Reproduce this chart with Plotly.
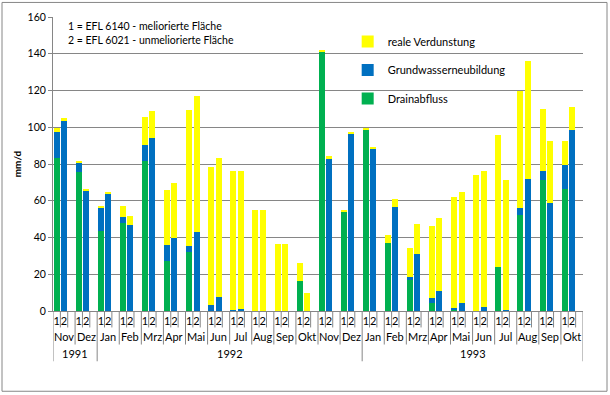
import plotly.graph_objects as go

# ---------------- data ----------------
months = ["Nov", "Dez", "Jan", "Feb", "Mrz", "Apr", "Mai", "Jun", "Jul", "Aug", "Sep", "Okt",
          "Nov", "Dez", "Jan", "Feb", "Mrz", "Apr", "Mai", "Jun", "Jul", "Aug", "Sep", "Okt"]
years = ["1991", "1992", "1993"]
months_per_year = [2, 12, 10]
bar_labels = ["1", "2"]

# site 1 = EFL 6140 (meliorierte Fläche)
drain_1 = [83.5, 75.5, 43.5, 47.7, 81.8, 27.0, 32.0, 0.0, 0.0, 0.0, 0.0, 16.2,
           140.7, 54.0, 98.7, 37.1, 17.4, 4.3, 1.0, 0.0, 24.0, 52.0, 71.4, 66.5]
gw_1 = [14.0, 5.5, 13.0, 3.7, 8.6, 8.7, 3.5, 3.2, 0.7, 0.0, 0.0, 0.0,
        0.0, 0.0, 0.0, 0.0, 0.9, 2.6, 0.5, 0.0, 0.0, 4.0, 4.9, 12.9]
evap_1 = [2.2, 0.7, 0.5, 5.5, 15.2, 30.4, 74.0, 75.3, 75.3, 54.9, 36.3, 10.0,
          1.6, 0.9, 0.8, 4.3, 16.1, 39.6, 60.7, 74.1, 71.8, 63.5, 33.7, 13.2]

# site 2 = EFL 6021 (unmeliorierte Fläche)
drain_2 = [0.0, 0.0, 0.0, 0.0, 0.0, 0.0, 0.0, 0.0, 0.0, 0.0, 0.0, 0.0,
           0.0, 0.0, 0.0, 0.0, 0.0, 0.0, 0.0, 0.0, 0.0, 0.0, 0.0, 0.0]
gw_2 = [103.5, 65.7, 63.8, 46.6, 94.2, 39.5, 43.0, 7.6, 1.3, 0.0, 0.0, 0.0,
        82.8, 96.7, 88.2, 56.4, 31.1, 11.0, 4.2, 2.0, 0.5, 72.0, 59.0, 98.6]
evap_2 = [1.3, 0.8, 0.5, 4.9, 14.6, 30.4, 73.9, 75.8, 74.7, 54.9, 36.3, 9.9,
          1.6, 0.4, 0.6, 4.7, 16.1, 39.6, 60.7, 74.3, 70.9, 63.9, 33.6, 12.5]

# ---------------- layout helpers ----------------
SLOTS = 3  # two bars + one empty slot per month (Excel-style category layout)
n = len(months)
x_pos, x_text = [], []
for i in range(n):
    for s, lab in enumerate(bar_labels):
        x_pos.append(SLOTS * i + s)
        x_text.append(lab)


def interleave(a, b):
    out = []
    for u, v in zip(a, b):
        out += [u, v]
    return out


FONT = "Lato, 'Open Sans', sans-serif"
GRAY = "#868686"

fig = go.Figure()
series = [
    ("Drainabfluss", drain_1, drain_2, "#00B050", 3),
    ("Grundwasserneubildung", gw_1, gw_2, "#0070C0", 2),
    ("reale Verdunstung", evap_1, evap_2, "#FFFF00", 1),
]
for name, a, b, col, rank in series:
    fig.add_trace(go.Bar(
        x=x_pos, y=interleave(a, b), name=name, legendgroup=name, legendrank=rank,
        marker=dict(color=col, line=dict(width=0)), width=0.82,
    ))

total_slots = SLOTS * n
xmin, xmax = -0.5, total_slots - 0.5

shapes = []
y_short, y_month, y_year = -0.056, -0.114, -0.171
year_bounds = {0}
acc = 0
for m in months_per_year:
    acc += m
    year_bounds.add(acc)
for k in range(total_slots + 1):
    xb = k - 0.5
    if k % SLOTS == 0 and (k // SLOTS) in year_bounds:
        y1 = y_year
    elif k % SLOTS == 0:
        y1 = y_month
    else:
        y1 = y_short
    shapes.append(dict(type="line", xref="x", yref="paper", x0=xb, x1=xb, y0=0, y1=y1,
                       line=dict(color=GRAY, width=1)))

# outer chart border
shapes.append(dict(type="rect", xref="paper", yref="paper", x0=-0.0962, x1=1.0453,
                   y0=-0.273, y1=1.0495, line=dict(color=GRAY, width=1), layer="below"))

annotations = []
for i, m in enumerate(months):
    annotations.append(dict(x=SLOTS * i + 1, y=-0.087, xref="x", yref="paper", text=m,
                            showarrow=False, font=dict(family=FONT, size=11, color="black"),
                            xanchor="center", yanchor="middle"))
start = 0
for yr, m in zip(years, months_per_year):
    center = (SLOTS * start - 0.5 + SLOTS * (start + m) - 0.5) / 2
    annotations.append(dict(x=center, y=-0.144, xref="x", yref="paper", text=yr,
                            showarrow=False, font=dict(family=FONT, size=11, color="black"),
                            xanchor="center", yanchor="middle"))
    start += m

annotations.append(dict(x=0.0245, y=0.995, xref="paper", yref="paper", xanchor="left", yanchor="top",
                        align="left", showarrow=False,
                        text="1 = EFL 6140 - meliorierte Fläche<br>2 = EFL 6021 - unmeliorierte Fläche",
                        font=dict(family=FONT, size=10.5, color="black")))

fig.update_layout(
    width=610, height=395,
    margin=dict(l=53, r=27, t=17, b=84),
    paper_bgcolor="white", plot_bgcolor="white",
    barmode="stack", bargap=0,
    font=dict(family=FONT, size=10.5, color="black"),
    shapes=shapes, annotations=annotations,
    legend=dict(x=0.556, y=0.966, xanchor="left", yanchor="top",
                traceorder="grouped", tracegroupgap=9.5,
                font=dict(family=FONT, size=11, color="black"),
                bgcolor="rgba(0,0,0,0)"),
    xaxis=dict(range=[xmin, xmax], tickmode="array", tickvals=x_pos, ticktext=x_text,
               tickangle=0, automargin=False,
               ticks="", showgrid=False, showline=True, linecolor=GRAY, linewidth=1,
               zeroline=False, tickfont=dict(family=FONT, size=11, color="black")),
    yaxis=dict(range=[0, 160], dtick=20, showgrid=True, gridcolor=GRAY, gridwidth=1,
               showline=True, linecolor=GRAY, linewidth=1, ticks="outside", ticklen=4,
               tickcolor=GRAY, zeroline=False, automargin=False,
               tickfont=dict(family=FONT, size=10.5, color="black"),
               title=dict(text="<b>mm/d</b>", standoff=4,
                          font=dict(family=FONT, size=10, color="black"))),
)

fig.write_html("out.html", config={"displayModeBar": False},
               post_script="document.body.style.margin='0px';")
